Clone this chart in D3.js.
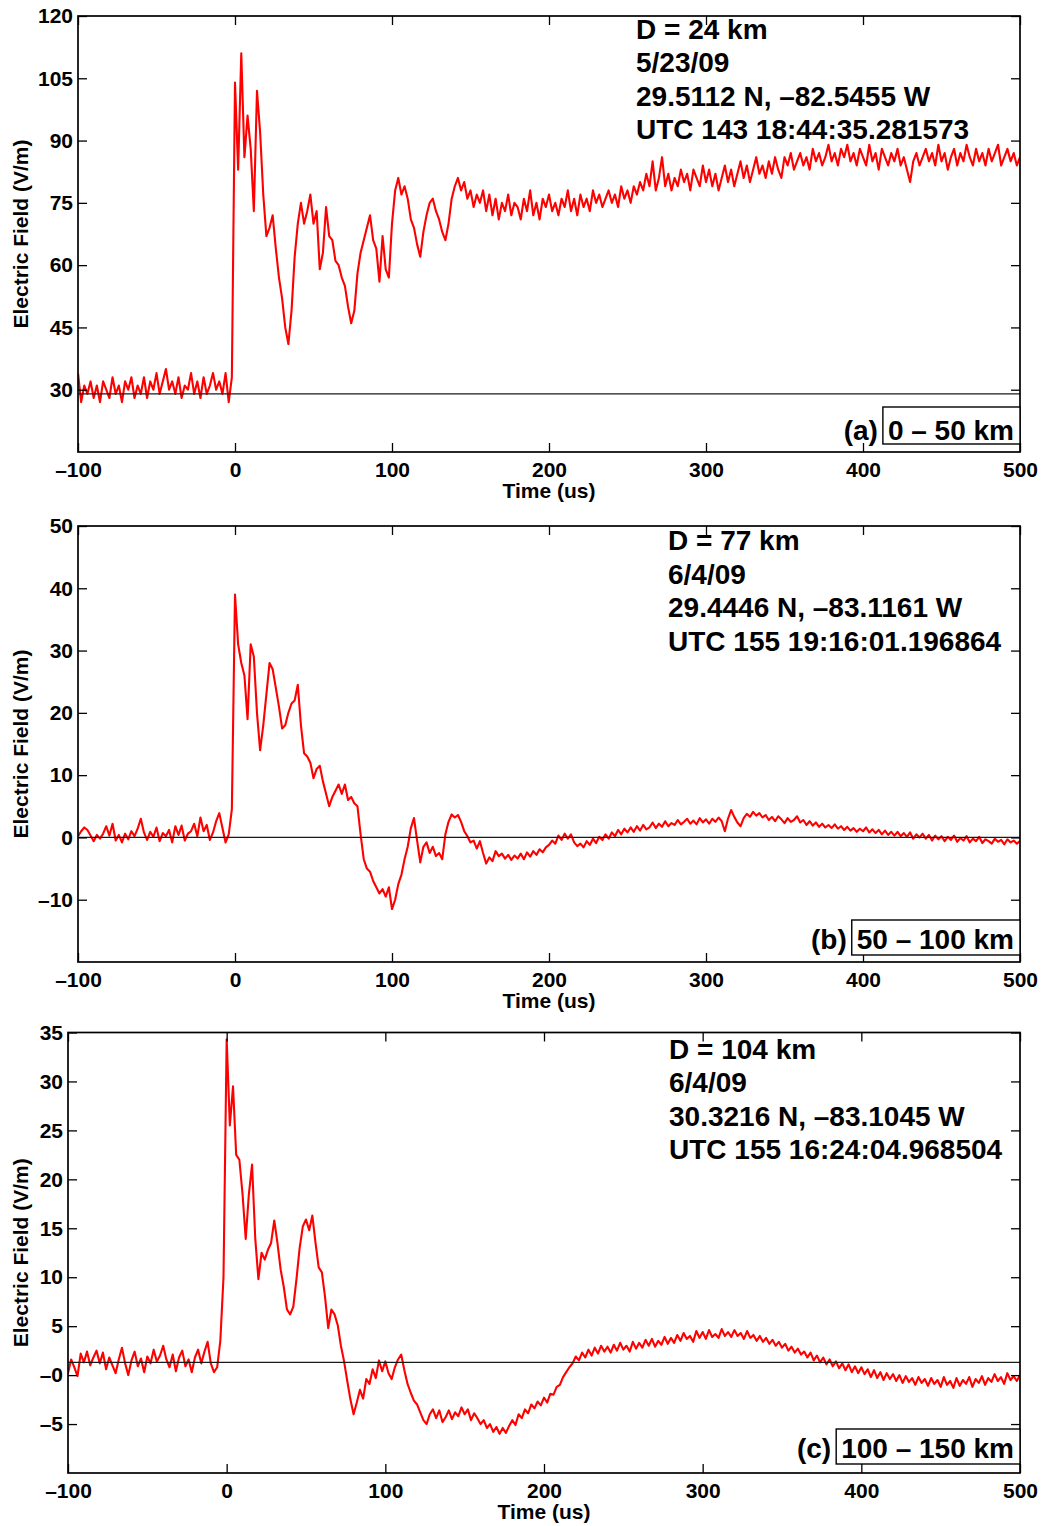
<!DOCTYPE html>
<html>
<head>
<meta charset="utf-8">
<script src="https://cdn.jsdelivr.net/npm/d3@7"></script>
<style>
  body { margin: 0; background: #fff; }
  svg { display: block; }
  text { font-family: "Liberation Sans", Arial, Helvetica, sans-serif; font-weight: bold; fill: #000; }
</style>
</head>
<body>
<svg id="fig" width="1042" height="1526"></svg>
<script>
// Sampling of the recorded waveforms: one value every 2 us from -100 us to 500 us
const timeStart = -100;
const timeStep = 2;

// Event (a): D = 24 km, field in V/m
const fieldA = [
  34, 27, 31, 29, 32, 28, 31, 27, 32, 30,
  28, 33, 29, 31, 27, 32, 30, 33, 28, 31,
  29, 33, 28, 32, 30, 34, 29, 32, 35, 30,
  32, 29, 33, 28, 31, 30, 34, 29, 32, 28,
  33, 29, 31, 34, 30, 32, 29, 34, 27, 33,
  104, 83, 111, 86, 96, 88, 73, 102, 92, 77,
  67, 69, 72, 64, 57, 52, 45, 41, 49, 62,
  70, 75, 70, 73, 77, 70, 73, 59, 63, 74,
  67, 66, 61, 60, 57, 55, 50, 46, 49, 58,
  63, 66, 69, 72, 66, 64, 56, 67, 59, 57,
  70, 78, 81, 77, 79, 76, 71, 69, 65, 62,
  68, 72, 75, 76, 73, 71, 68, 66, 70, 76,
  79, 81, 78, 80, 76, 78, 74, 77, 75, 78,
  73, 77, 72, 76, 71, 75, 73, 77, 72, 75,
  74, 71, 76, 73, 78, 72, 75, 71, 76, 74,
  77, 73, 75, 72, 76, 74, 78, 73, 76, 72,
  77, 74, 76, 73, 78, 75, 77, 74, 76, 78,
  75, 77, 74, 79, 76, 78, 75, 79, 77, 80,
  78, 82, 79, 85, 78, 81, 86, 79, 82, 78,
  81, 79, 83, 80, 82, 78, 83, 81, 79, 84,
  80, 83, 79, 82, 78, 81, 84, 80, 83, 79,
  82, 85, 81, 84, 80, 83, 86, 82, 84, 81,
  85, 82, 86, 83, 81, 86, 84, 87, 83, 85,
  87, 84, 86, 83, 88, 85, 87, 84, 86, 89,
  85, 87, 84, 88, 86, 89, 85, 87, 84, 88,
  86, 84, 89, 85, 87, 83, 88, 86, 84, 87,
  85, 88, 84, 86, 83, 80, 85, 87, 84, 86,
  88, 85, 87, 84, 89, 85, 87, 83, 86, 88,
  84, 87, 85, 89, 86, 84, 88, 85, 87, 84,
  88, 85, 87, 89, 84, 86, 88, 85, 87, 84,
  86
];

// Event (b): D = 77 km
const fieldB = [
  0.2, 1.0, 1.6, 1.2, 0.3, -0.6, 0.4, -0.2, 0.6, 1.8,
  0.3, 2.2, -0.5, 0.4, -0.8, 0.6, -0.3, 1.0, 0.2, 1.4,
  3.0, 0.8, -0.4, 0.9, 0.1, 1.6, -0.6, 0.7, 0.2, 1.2,
  -0.8, 1.8, 0.4, 1.9, -0.5, 0.6, 1.0, 2.2, 0.2, 3.2,
  1.0, 2.0, -0.4, 0.8, 2.6, 3.9, 1.5, -0.8, 0.5, 4.5,
  39, 31, 28, 26, 19, 31, 29, 20, 14, 18,
  23, 28, 27, 24, 21, 17.5, 18, 20, 21.5, 22,
  24.5, 18, 13.5, 13, 12, 9.5, 11, 11.5, 9, 7,
  5, 6.5, 7.5, 8.5, 7, 8.5, 6, 6.5, 5.5, 5,
  0.5, -3.5, -5, -5.5, -7, -8, -9, -8.3, -9.5, -8,
  -11.5, -10, -7.5, -6, -3.5, -1.5, 1.5, 3.1, -0.5, -4,
  -1.5, -0.8, -2.5, -1.5, -3, -2.5, -3.5, 0.5, 2.5, 3.7,
  3.2, 3.6, 2.5, 1.0, 0.2, -0.8, -0.5, -1.8, -0.6, -2.5,
  -4.2, -3.2, -3.8, -2.2, -3.0, -2.6, -3.4, -2.8, -3.6, -2.9,
  -3.4, -2.6, -3.5, -2.4, -3.1, -2.2, -2.8, -1.9, -2.4, -1.6,
  -1.2, -0.5, -1.0, 0.3, -0.4, 0.6, -0.2, 0.5, -0.8, -1.4,
  -1.0, -1.6, -0.6, -1.2, -0.2, -0.9, 0.1, -0.4, 0.5, -0.2,
  0.8, 0.2, 1.2, 0.5, 1.4, 0.8, 1.6, 0.9, 1.8, 1.1,
  2.0, 1.3, 1.6, 2.4, 1.5, 2.2, 1.7, 2.6, 1.8, 2.3,
  2.0, 2.8, 2.1, 2.5, 3.0, 2.2, 2.7, 2.1, 3.1, 2.4,
  2.9, 2.2, 3.0, 2.5, 3.2, 2.6, 1.0, 3.0, 4.4, 3.3,
  2.4, 1.8, 3.1, 3.8, 3.3, 4.1, 3.5, 3.9, 3.2, 3.6,
  2.8, 3.3, 2.6, 3.4, 2.9, 2.3, 3.1, 2.5, 2.8, 3.4,
  2.4, 2.8, 2.0, 2.6, 1.9, 2.4, 1.7, 2.2, 1.6, 2.0,
  1.5, 2.1, 1.4, 1.8, 1.2, 1.7, 1.1, 1.5, 0.9, 1.4,
  1.0, 1.6, 0.8, 1.3, 0.7, 1.2, 0.5, 1.1, 0.4, 0.9,
  0.3, 0.9, 0.2, 0.7, 0.1, 0.8, -0.2, 0.5, 0.0, 0.6,
  -0.2, 0.4, -0.5, 0.3, -0.3, 0.2, -0.6, 0.1, -0.4, 0.3,
  -0.7, -0.1, -0.5, 0.2, -0.8, -0.2, -0.6, 0.1, -0.9, -0.3,
  -0.6, -1.0, -0.2, -0.7, -0.4, -1.1, -0.3, -0.8, -0.5, -1.0,
  -0.6
];

// Event (c): D = 104 km
const fieldC = [
  0.2, 1.6, 0.8, -0.1, 2.2, 1.3, 2.4, 1.0, 1.8, 2.5,
  1.2, 2.3, 0.6, 1.8, 1.0, 0.2, 1.6, 2.8, 1.2, 0.0,
  1.5, 2.4, 0.9, 1.7, 0.3, 1.9, 1.2, 2.6, 1.4, 2.0,
  3.0, 1.6, 0.8, 2.1, 0.4, 1.8, 2.5, 0.9, 1.6, 0.3,
  1.8, 2.6, 1.2, 2.4, 3.4, 1.2, 0.3, 0.8, 3.5, 10,
  34.3, 25.5, 29.5, 22.5, 22, 18.5, 13.9, 18.5, 21.5, 14,
  9.8, 12.5, 11.8, 12.8, 13.5, 15.8, 13.5, 10.8, 9.0, 6.7,
  6.2, 7.0, 9.8, 13, 15.2, 15.9, 14.8, 16.3, 13.5, 11,
  10.5, 8, 4.8, 6.7, 6.2, 5.1, 3.0, 1.4, -0.6, -2.5,
  -4, -2.8, -1.5, -2.4, -0.4, -0.9, 0.6, -0.3, 1.5, 0.4,
  1.4, 0.2, -0.4, 0.8, 1.6, 2.1, 0.5, -0.9, -1.8, -2.6,
  -3.0, -3.8, -4.6, -5.0, -4.0, -3.5, -4.4, -3.6, -4.8, -4.3,
  -3.6, -4.5, -3.8, -4.2, -3.3, -4.0, -3.5, -4.6, -3.9, -4.4,
  -5.0, -4.6, -5.4, -5.0, -5.8, -5.3, -6.0, -5.4, -5.9, -5.2,
  -4.6, -5.1, -4.0, -4.4, -3.5, -3.9, -3.0, -3.4, -2.7, -3.1,
  -2.3, -2.8, -1.9, -2.0, -1.2, -1.0, -0.2, 0.3, 0.8, 1.2,
  1.9, 1.5, 2.3, 1.8, 2.6, 2.0, 2.8, 2.2, 3.0, 2.4,
  2.9, 2.3, 3.1, 2.5, 3.3, 2.6, 3.0, 2.4, 3.4, 2.7,
  3.3, 2.8, 3.6, 3.0, 3.7, 2.9, 3.5, 3.1, 3.9, 3.2,
  3.8, 3.3, 4.1, 3.5, 4.3, 3.7, 4.0, 3.4, 4.5, 3.8,
  4.4, 3.7, 4.6, 3.9, 4.2, 3.8, 4.7, 4.0, 4.4, 3.9,
  4.6, 4.0, 4.3, 3.7, 4.5, 3.8, 4.1, 3.5, 4.0, 3.4,
  3.8, 3.2, 3.6, 3.0, 3.4, 2.8, 3.2, 2.5, 2.9, 2.3,
  2.7, 2.1, 2.4, 1.8, 2.3, 1.5, 2.0, 1.3, 1.8, 1.1,
  1.6, 0.9, 1.4, 0.7, 1.2, 0.5, 1.1, 0.3, 0.9, 0.2,
  0.8, 0.1, 0.6, -0.2, 0.5, -0.3, 0.3, -0.5, 0.2, -0.4,
  0.1, -0.6, 0.0, -0.8, -0.1, -0.7, -0.3, -1.0, -0.2, -0.8,
  -0.4, -1.1, -0.3, -0.9, -0.5, -1.2, -0.2, -1.0, -0.6, -1.3,
  -0.3, -1.1, -0.5, -0.9, -0.2, -1.2, -0.4, -0.8, -0.1, -1.0,
  -0.3, -0.7, 0.1, -0.6, -0.2, -0.9, 0.2, -0.5, -0.1, -0.6,
  0.0
];

// Reference (pre-stroke) levels drawn as black horizontal lines
const baselineA = 29;
const baselineB = 0;
const baselineC = 1.3;

// Axis ticks and their labels
const xTicks = [-100, 0, 100, 200, 300, 400, 500];
const xTickLabels = ["\u2013100", "0", "100", "200", "300", "400", "500"];
const yTicksA = [30, 45, 60, 75, 90, 105, 120];
const yTickLabelsA = ["30", "45", "60", "75", "90", "105", "120"];
const yTicksB = [-10, 0, 10, 20, 30, 40, 50];
const yTickLabelsB = ["\u201310", "0", "10", "20", "30", "40", "50"];
const yTicksC = [-5, 0, 5, 10, 15, 20, 25, 30, 35];
const yTickLabelsC = ["\u20135", "\u20130", "5", "10", "15", "20", "25", "30", "35"];

// Event annotations
const infoA = ["D = 24 km", "5/23/09", "29.5112 N, \u201382.5455 W", "UTC 143 18:44:35.281573"];
const infoB = ["D = 77 km", "6/4/09", "29.4446 N, \u201383.1161 W", "UTC 155 19:16:01.196864"];
const infoC = ["D = 104 km", "6/4/09", "30.3216 N, \u201383.1045 W", "UTC 155 16:24:04.968504"];
const tags = ["(a)", "(b)", "(c)"];
const rangeLabels = ["0 \u2013 50 km", "50 \u2013 100 km", "100 \u2013 150 km"];

const xLabel = "Time (us)";
const yLabel = "Electric Field (V/m)";

const timeUs = d3.range(fieldA.length).map(i => timeStart + i * timeStep);

// Layout of each panel (pixels)
const panels = [
  { id: "a", values: fieldA, yDomain: [15, 120], yTicks: yTicksA, yLabels: yTickLabelsA, baseline: baselineA,
    info: infoA, tag: tags[0], range: rangeLabels[0],
    l: 78, r: 1020, t: 16, b: 452, infoX: 636, infoY: 38.5, boxTop: 407, boxBottom: 444, boxBase: 440 },
  { id: "b", values: fieldB, yDomain: [-20, 50], yTicks: yTicksB, yLabels: yTickLabelsB, baseline: baselineB,
    info: infoB, tag: tags[1], range: rangeLabels[1],
    l: 78, r: 1020, t: 526, b: 962, infoX: 668, infoY: 550, boxTop: 920, boxBottom: 955, boxBase: 949 },
  { id: "c", values: fieldC, yDomain: [-10, 35], yTicks: yTicksC, yLabels: yTickLabelsC, baseline: baselineC,
    info: infoC, tag: tags[2], range: rangeLabels[2],
    l: 68, r: 1020, t: 1032.5, b: 1473, infoX: 669, infoY: 1058.5, boxTop: 1429, boxBottom: 1464, boxBase: 1458 }
];

const svg = d3.select("#fig");
const defs = svg.append("defs");
const TICK = 9;
const FONT_TICK = 21;

panels.forEach(p => {
  const x = d3.scaleLinear().domain([-100, 500]).range([p.l, p.r]);
  const y = d3.scaleLinear().domain(p.yDomain).range([p.b, p.t]);
  const g = svg.append("g").attr("class", "panel-" + p.id);

  defs.append("clipPath").attr("id", "clip-" + p.id)
    .append("rect").attr("x", p.l).attr("y", p.t).attr("width", p.r - p.l).attr("height", p.b - p.t);

  // waveform
  const line = d3.line().x((d, i) => x(timeUs[i])).y(d => y(d));
  g.append("path")
    .datum(p.values)
    .attr("d", line)
    .attr("fill", "none")
    .attr("stroke", "#ff0000")
    .attr("stroke-width", 2.1)
    .attr("stroke-linejoin", "round")
    .attr("clip-path", "url(#clip-" + p.id + ")");

  // reference level
  g.append("line")
    .attr("x1", p.l).attr("x2", p.r)
    .attr("y1", y(p.baseline)).attr("y2", y(p.baseline))
    .attr("stroke", "#1a1a1a").attr("stroke-width", 1.2);

  // axes with inward ticks on all four sides
  const styleAxis = sel => {
    sel.select(".domain").remove();
    sel.selectAll(".tick line").attr("stroke", "#000").attr("stroke-width", 1.3);
    sel.selectAll(".tick text")
      .attr("font-size", FONT_TICK)
      .attr("font-family", "'Liberation Sans', Arial, Helvetica, sans-serif")
      .attr("font-weight", "bold")
      .attr("fill", "#000");
  };

  g.append("g").attr("transform", `translate(${p.l},0)`)
    .call(d3.axisLeft(y).tickValues(p.yTicks).tickFormat((d, i) => p.yLabels[i])
      .tickSizeInner(-TICK).tickSizeOuter(0).tickPadding(5))
    .call(styleAxis);
  g.append("g").attr("transform", `translate(${p.r},0)`)
    .call(d3.axisRight(y).tickValues(p.yTicks).tickFormat("")
      .tickSizeInner(-TICK).tickSizeOuter(0))
    .call(styleAxis);
  g.append("g").attr("transform", `translate(0,${p.b})`)
    .call(d3.axisBottom(x).tickValues(xTicks).tickFormat((d, i) => xTickLabels[i])
      .tickSizeInner(-TICK).tickSizeOuter(0).tickPadding(10))
    .call(styleAxis);
  g.append("g").attr("transform", `translate(0,${p.t})`)
    .call(d3.axisTop(x).tickValues(xTicks).tickFormat("")
      .tickSizeInner(-TICK).tickSizeOuter(0))
    .call(styleAxis);

  // frame
  g.append("rect")
    .attr("x", p.l).attr("y", p.t).attr("width", p.r - p.l).attr("height", p.b - p.t)
    .attr("fill", "none").attr("stroke", "#000").attr("stroke-width", 1.7);

  // axis titles
  g.append("text")
    .attr("x", (p.l + p.r) / 2).attr("y", p.b + 46)
    .attr("text-anchor", "middle").attr("font-size", 21)
    .text(xLabel);
  g.append("text")
    .attr("transform", `translate(28,${(p.t + p.b) / 2}) rotate(-90)`)
    .attr("text-anchor", "middle").attr("font-size", 21)
    .text(yLabel);

  // event information
  g.append("g").selectAll("text").data(p.info).join("text")
    .attr("x", p.infoX)
    .attr("y", (d, i) => p.infoY + i * 33.6)
    .attr("font-size", 28)
    .text(d => d);

  // distance-range box and panel tag
  const rangeText = g.append("text")
    .attr("x", p.r - 6).attr("y", p.boxBase)
    .attr("text-anchor", "end").attr("font-size", 28)
    .text(p.range);
  const bb = rangeText.node().getBBox();
  const boxLeft = bb.x - 5;
  g.insert("rect", () => rangeText.node())
    .attr("x", boxLeft).attr("y", p.boxTop)
    .attr("width", p.r - boxLeft).attr("height", p.boxBottom - p.boxTop)
    .attr("fill", "#fff").attr("stroke", "#000").attr("stroke-width", 1.4);
  g.append("text")
    .attr("x", boxLeft - 5).attr("y", p.boxBase)
    .attr("text-anchor", "end").attr("font-size", 28)
    .text(p.tag);
});
</script>
</body>
</html>
